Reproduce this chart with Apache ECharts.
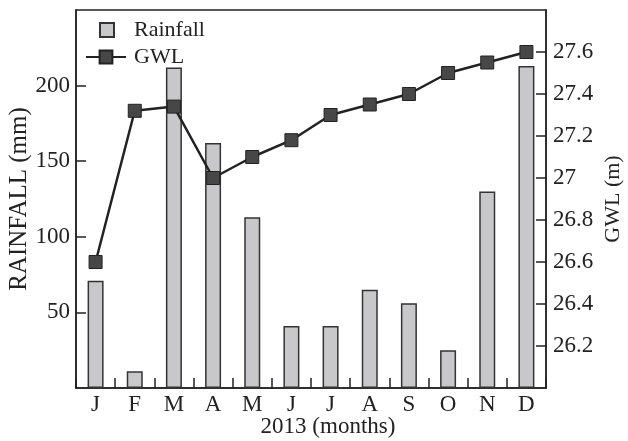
<!DOCTYPE html>
<html>
<head>
<meta charset="utf-8">
<script src="https://cdn.jsdelivr.net/npm/echarts@6/dist/echarts.min.js"></script>
<style>html,body{margin:0;padding:0;background:#fff}#c{width:628px;height:441px}</style>
</head>
<body>
<div id="c"></div>
<script>
var months = ['J','F','M','A','M','J','J','A','S','O','N','D'];
var rainfall = [71, 11, 212, 162, 113, 41, 41, 65, 56, 25, 130, 213];
var gwl = [26.6, 27.32, 27.34, 27.0, 27.1, 27.18, 27.3, 27.35, 27.4, 27.5, 27.55, 27.6];

var FONT = '"Liberation Serif", "Times New Roman", serif';
var chart = echarts.init(document.getElementById('c'), null, {renderer: 'canvas'});
chart.setOption({
  animation: false,
  backgroundColor: '#fff',
  textStyle: {fontFamily: FONT, color: '#222'},
  grid: {left: 76, right: 82, top: 10, bottom: 53, containLabel: false, outerBoundsMode: 'none',
         show: true, borderColor: '#222', borderWidth: 1.5, backgroundColor: 'transparent'},
  legend: [
    {data: [{name: 'Rainfall', icon: 'rect'}], left: 99, top: 19, padding: 0, itemWidth: 14, itemHeight: 14,
     textStyle: {fontFamily: FONT, fontSize: 22, color: '#222', padding: [0,0,0,15]}},
    {data: ['GWL'], left: 85, top: 46, padding: 0, itemWidth: 40, itemHeight: 16,
     textStyle: {fontFamily: FONT, fontSize: 22, color: '#222', padding: [0,0,0,3]}}
  ],
  xAxis: {
    type: 'category', data: months,
    name: '2013 (months)', nameLocation: 'middle', nameGap: 27, nameMoveOverlap: false,
    nameTextStyle: {fontFamily: FONT, fontSize: 23, color: '#222', padding: [0,0,0,34]},
    axisLine: {lineStyle: {color: '#222', width: 1.5}},
    axisTick: {show: true, inside: true, length: 10, lineStyle: {color: '#222', width: 1.5}},
    axisLabel: {fontFamily: FONT, fontSize: 23, color: '#222', margin: 5}
  },
  yAxis: [
    {type: 'value', min: 0, max: 250, interval: 50, position: 'left',
     name: 'RAINFALL (mm)', nameLocation: 'middle', nameGap: 44, nameMoveOverlap: false,
     nameTextStyle: {fontFamily: FONT, fontSize: 25, color: '#222'},
     axisLine: {show: true, lineStyle: {color: '#222', width: 1.5}},
     axisTick: {show: true, inside: true, length: 10, lineStyle: {color: '#222', width: 1.5}},
     axisLabel: {fontFamily: FONT, fontSize: 23, color: '#222', margin: 6, showMinLabel: false, showMaxLabel: false},
     splitLine: {show: false}},
    {type: 'value', min: 26, max: 27.8, interval: 0.2, position: 'right',
     name: 'GWL (m)', nameLocation: 'middle', nameGap: 56, nameRotate: 90, nameMoveOverlap: false,
     nameTextStyle: {fontFamily: FONT, fontSize: 22, color: '#222'},
     axisLine: {show: true, lineStyle: {color: '#222', width: 1.5}},
     axisTick: {show: true, inside: true, length: 10, lineStyle: {color: '#222', width: 1.5}},
     axisLabel: {fontFamily: FONT, fontSize: 23, color: '#222', margin: 7, showMinLabel: false, showMaxLabel: false,
       formatter: function (v) { return String(parseFloat(v.toFixed(1))); }},
     splitLine: {show: false}}
  ],
  series: [
    {name: 'Rainfall', type: 'bar', data: rainfall, barWidth: 16, yAxisIndex: 0,
     itemStyle: {color: '#c8c8ca', borderColor: '#333', borderWidth: 1.5}},
    {name: 'GWL', type: 'line', data: gwl, yAxisIndex: 1, symbol: 'rect', symbolSize: 13, z: 5,
     lineStyle: {color: '#222', width: 2.5},
     itemStyle: {color: '#474747', borderColor: '#222', borderWidth: 1}}
  ]
});
</script>
</body>
</html>
